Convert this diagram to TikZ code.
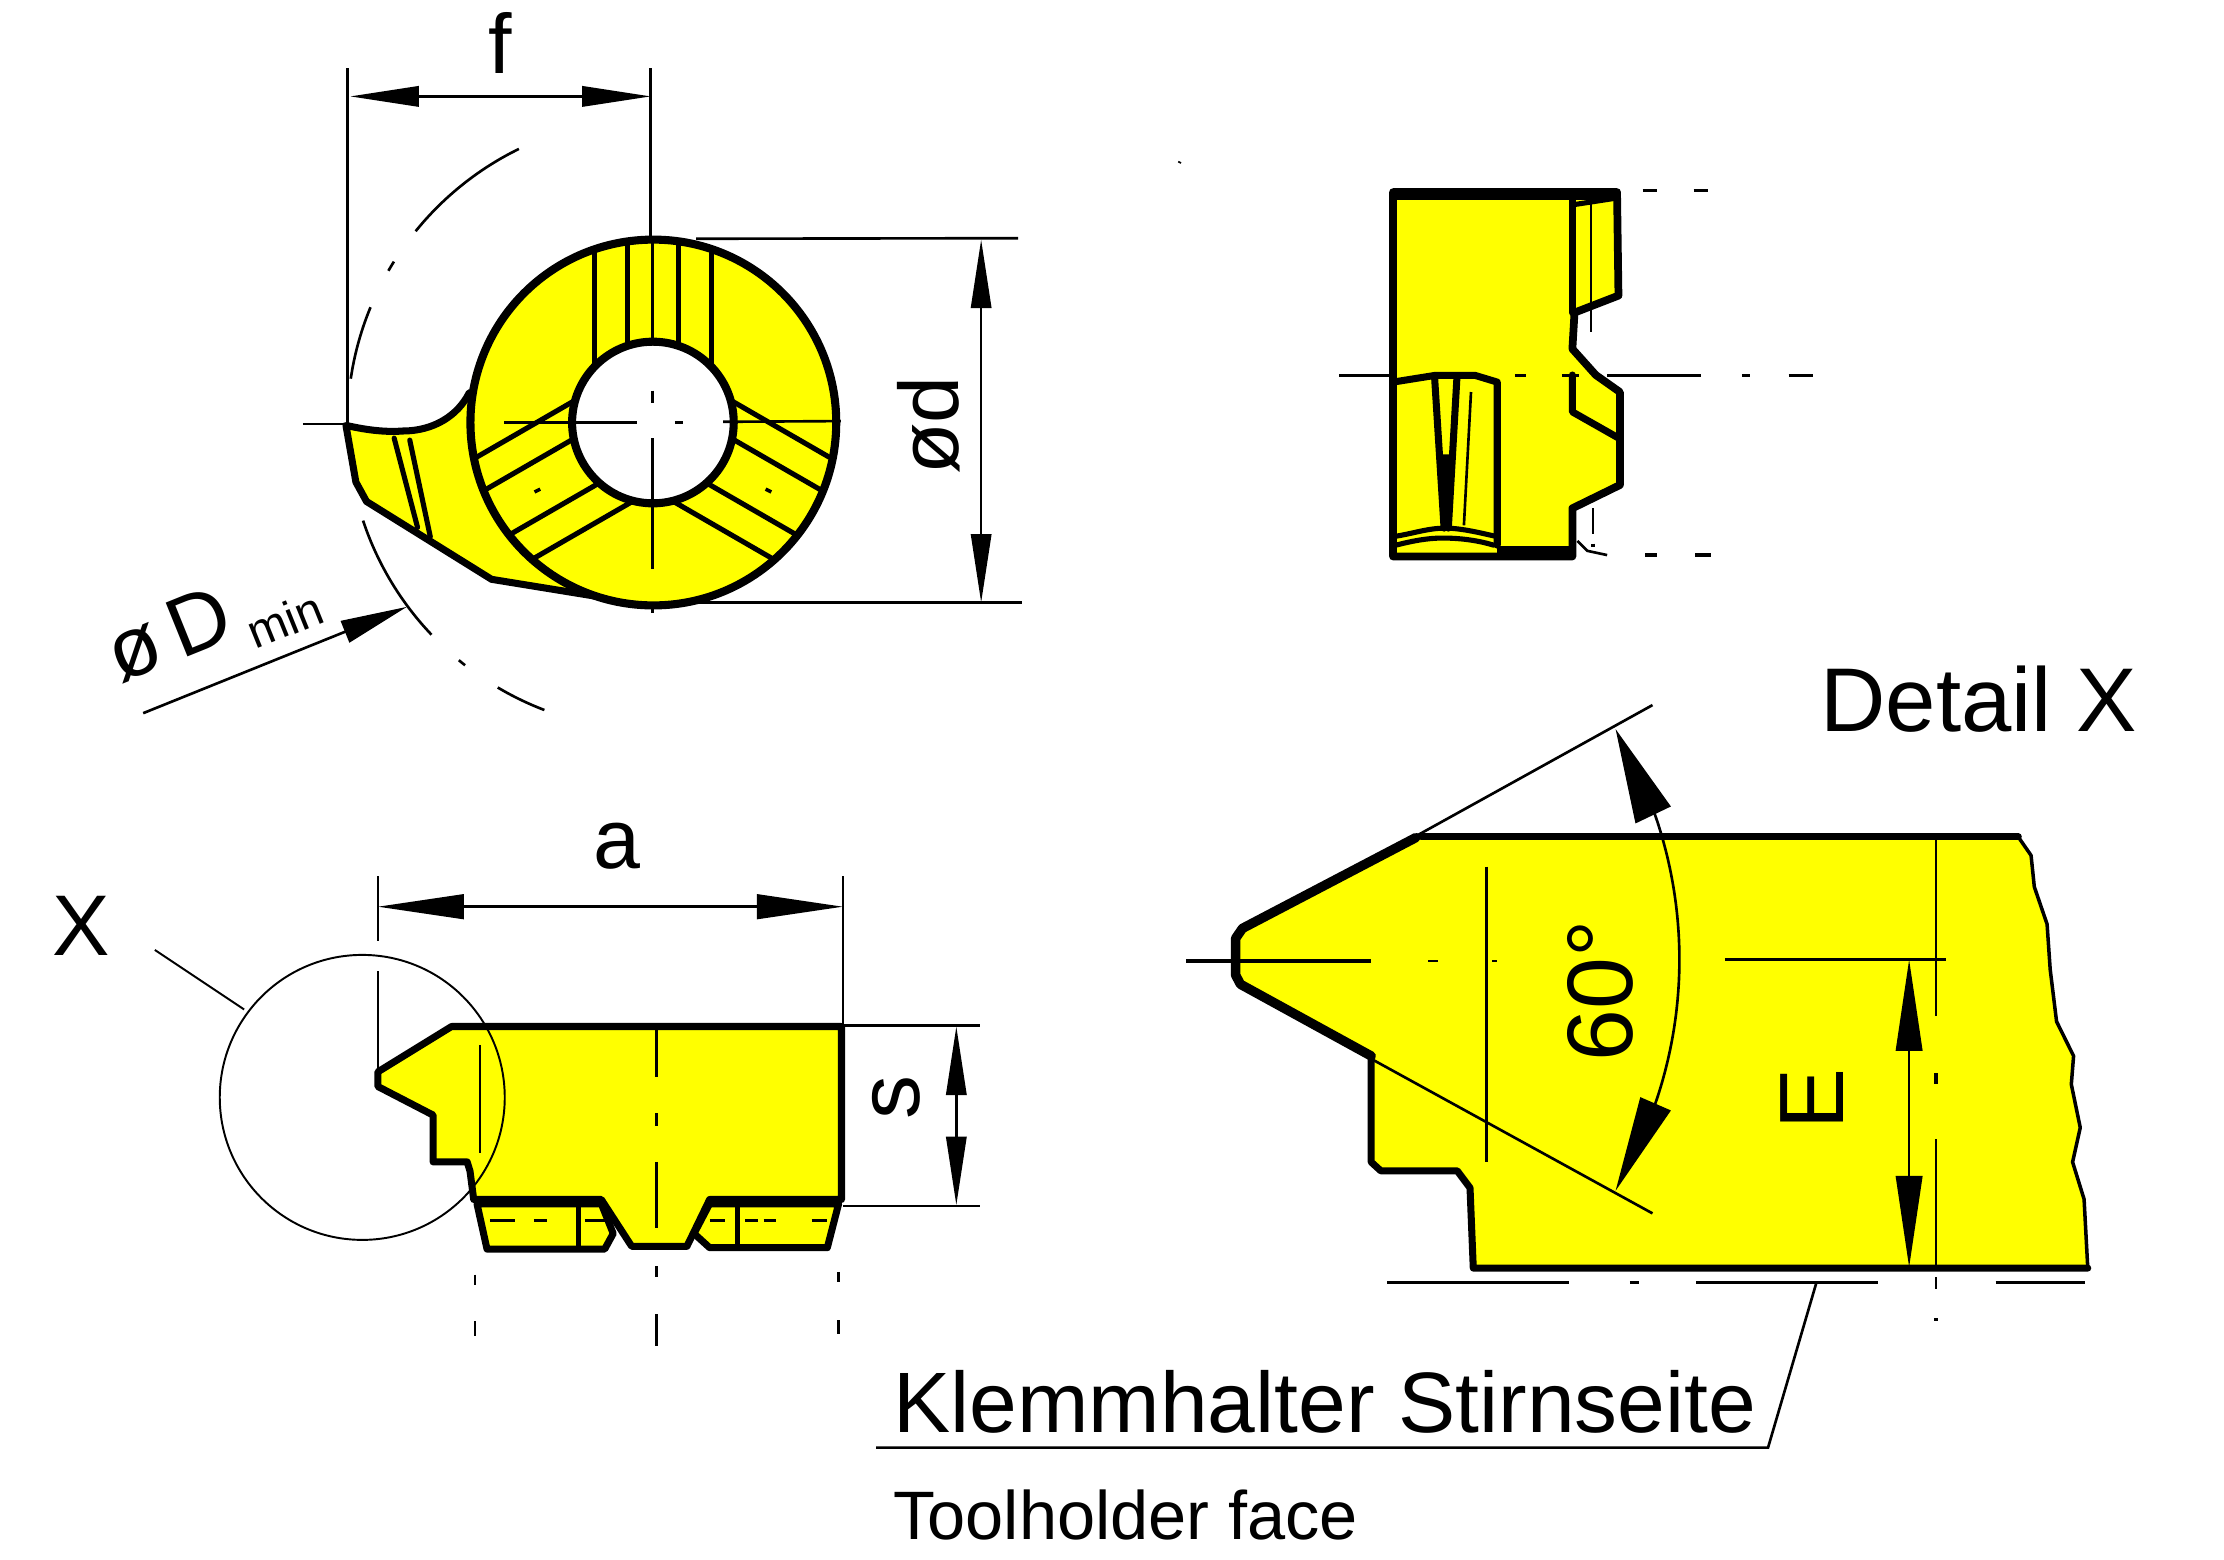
\documentclass[tikz,border=0pt]{standalone}
\usepackage{fontspec}
\setmainfont{Liberation Sans}
\usetikzlibrary{arrows.meta}
\definecolor{partyellow}{HTML}{FFFF00}
\newcommand{\lab}[1]{\fontsize{#1}{#1}\selectfont}
\tikzset{
  x=0.028344cm,y=-0.028344cm,
  thk/.style={line width=4pt,line join=round,line cap=round},
  med/.style={line width=2.9pt,line join=round,line cap=round},
  thn/.style={line width=1.5pt},
  dimarrow/.style={line width=1.5pt,{Triangle[length=39pt,width=11.5pt]}-{Triangle[length=39pt,width=11.5pt]}},
  dimarrowA/.style={line width=1.5pt,{Triangle[length=49pt,width=14pt]}-{Triangle[length=49pt,width=14pt]}},
  dimarrowE/.style={line width=1.5pt,{Triangle[length=52pt,width=15pt]}-{Triangle[length=52pt,width=15pt]}},
  part/.style={fill=partyellow,draw=black},
  txt/.style={inner sep=0pt,outer sep=0pt,text=black}
}
\begin{document}
\begin{tikzpicture}
\useasboundingbox (0,0) rectangle (1568.6,1099.6);
\fill[white] (0,0) rectangle (1568.6,1099.6);

%% ---------- top-left view ----------
\begin{scope}[shift={(1,1)}]
\coordinate (fL) at (246,67); \coordinate (fR) at (458,67);
\coordinate (dT) at (691,168); \coordinate (dB) at (691,424);
\draw[thn] (244,47) -- (244,298);
\draw[thn] (458,47) -- (458,170);
\draw[dimarrow] (fL) -- (fR);
\draw[thn] (490,167.4) -- (717,167);
\draw[thn] (490,424) -- (720,424);
\draw[dimarrow] (dT) -- (dB);
% dashed circle
\draw[thn] plot[domain=219:243.9,samples=12,smooth] ({460+216*cos(\x)},{298+216*sin(\x)});
\draw[thn] plot[domain=210:212,samples=3] ({460+216*cos(\x)},{298+216*sin(\x)});
\draw[thn] plot[domain=188.5:202.4,samples=8,smooth] ({460+216*cos(\x)},{298+216*sin(\x)});
\draw[thn] plot[domain=136.5:161.6,samples=12,smooth] ({460+216*cos(\x)},{298+216*sin(\x)});
\draw[thn] plot[domain=128:129.5,samples=3] ({460+216*cos(\x)},{298+216*sin(\x)});
\draw[thn] plot[domain=110.9:120.6,samples=6,smooth] ({460+216*cos(\x)},{298+216*sin(\x)});
% Dmin arrow
\coordinate (dminA) at (100,502); \coordinate (dminB) at (286,427);
\draw[line width=1.5pt,-{Triangle[length=38pt,width=13pt]}] (dminA) -- (dminB);
% tail
\draw[part,thk] (243,299) .. controls (256,302) and (270,304) .. (283,303)
  .. controls (305,303) and (322,292) .. (330,276)
  -- (459,426) -- (345.7,407.6) -- (257.5,352.7) -- (250,339) -- cycle;
\draw[med] (277,308) -- (293.5,371);
\draw[med] (288,309.4) -- (302.5,377.6);
% ring
\draw[part,line width=4.6pt] (459.8,297) circle[radius=129];
\foreach \r in {0,120,240}{
  \begin{scope}[shift={(459.5,297)},rotate=\r]
    \draw[med] (-41,-120) -- (-41,-30);
    \draw[med] (41,-120) -- (41,-30);
    \draw[med] (-18,-126) -- (-18,-40);
    \draw[med] (18,-126) -- (18,-40);
  \end{scope}
}
\draw[line width=4.6pt,fill=white] (459.5,297) circle[radius=57];
% centre lines
\draw[thn] (459,168) -- (459,240);
\draw[thn] (459,274.5) -- (459,283);
\draw[thn] (459,308) -- (459,400);
\draw[thn] (459,426) -- (459,431);
\draw[thn] (354.7,297) -- (448,297);
\draw[thn] (475,297) -- (481,297);
\draw[thn] (509,296.5) -- (592,296);
\draw[thn] (212.6,298) -- (243,298);
\draw[line width=2pt] (376,346) -- (380,344);
\draw[line width=2pt] (539,344) -- (543,346);
\end{scope}
% labels
\node[txt,anchor=center] (lf) at (353,30) {\lab{48}f};
\node[txt,anchor=center,rotate=90] (ld) at (655,300) {\lab{48}ød};
\node[txt,anchor=center,rotate=22] (lD) at (119,447) {\lab{48}ø\,D};
\node[txt,anchor=center,rotate=22] (lmin) at (201,437) {\lab{27}min};

%% ---------- top-right view ----------
\begin{scope}[shift={(1.5,0.5)}]
\draw[part,line width=4.4pt,line join=round] (981,135) -- (1139,135) -- (1140,208) -- (1109,220) -- (1107.5,245.6)
  -- (1124,264) -- (1141,276) -- (1141,341.6) -- (1107.5,358) -- (1107.5,392) -- (981,392) -- cycle;
\draw[line width=5.5pt] (981,137) -- (1139,137);
\draw[thk] (1107.5,135) -- (1107.5,220);
\draw[med] (1107.5,144) -- (1140,139);
\draw[thn] (1120.5,142.5) -- (1120.5,234);
\draw[thk] (1107.5,264) -- (1107.5,290) -- (1141,309);
\draw[thk] (981,269) -- (1010.4,264.3) -- (1039,264.3) -- (1054.5,269) -- (1054.5,384);
\draw[line width=6pt] (1054.5,388) -- (1107.5,388);
\draw[thk] (1010.4,267) -- (1017,372);
\draw[thk] (1026,267) -- (1020,372);
\fill (1012,320) -- (1025,320) -- (1019,372) -- cycle;
\draw[thn] (1036,276) -- (1031,370);
\draw[med] (981,378) .. controls (995,376) and (1005,372) .. (1018,372) .. controls (1030,372) and (1045,376) .. (1054.5,378);
\draw[med] (983,384) .. controls (995,381) and (1005,379) .. (1016,379) .. controls (1030,379) and (1042,381) .. (1052,384);
\draw[thn] (1122,358) -- (1122,376);
\draw[thn] (1111,381) -- (1118,388) -- (1132,391);
\draw[line width=2pt] (1122,383) -- (1122,385);
\foreach \a/\b in {943/981,1067/1075,1100/1112,1132/1198,1227/1233,1260/1277}{
  \draw[line width=1.8pt] (\a,264.5) -- (\b,264.5);}
\foreach \a/\b in {1157/1167,1193/1203}{\draw[line width=1.8pt] (\a,134) -- (\b,134);}
\foreach \a/\b in {1159/1167,1194/1205}{\draw[line width=1.8pt] (\a,391) -- (\b,391);}
\end{scope}
\draw[line width=1pt] (831,114) -- (833,115);

%% ---------- bottom-left view ----------
\begin{scope}[shift={(0.5,1)}]
\draw[thn] (266,617) -- (266,662.6);
\draw[thn] (266,684) -- (266,755);
\draw[thn] (594,617) -- (594,723);
\coordinate (aL) at (266,638.5); \coordinate (aR) at (594,638.5);
\draw[dimarrowA] (aL) -- (aR);
\draw[thn] (594,722.5) -- (691,722.5);
\draw[thn] (594,849.5) -- (691,849.5);
\coordinate (sT) at (674,723); \coordinate (sB) at (674,849);
\draw[dimarrow] (sT) -- (sB);
\draw[part,thk] (266,755) -- (318,723) -- (593,723) -- (593,845) -- (500,845)
  -- (484,878) -- (445,878) -- (423.6,845) -- (333.6,845) -- (331,825) -- (329,818.5)
  -- (305,818.5) -- (305,785.5) -- (266,765.3) -- cycle;
% pads
\draw[part,thk] (335.9,848) -- (343,880) -- (426,880) -- (432,869) -- (423.6,848) -- cycle;
\draw[part,thk] (591,848) -- (583,879) -- (500,879) -- (489,869) -- (500,848) -- cycle;
\draw[med] (407.8,850) -- (407.8,880);
\draw[med] (519.4,850) -- (519.4,879);
\foreach \a/\b in {345/363,376/385,412/426,500/511,525/534,538/547,572/583}{
  \draw[line width=1.8pt] (\a,860) -- (\b,860);}
\draw[thn] (338,736) -- (338,812);
\foreach \a/\b in {723/758.9,784/793,818.5/865,892/899.6,926/948}{\draw[thn] (462.7,\a) -- (462.7,\b);}
\foreach \a/\b in {898/905,931/941.5}{\draw[thn] (334.5,\a) -- (334.5,\b);}
\foreach \a/\b in {896/903.4,930/940}{\draw[thn] (591,\a) -- (591,\b);}
\draw[line width=1.1pt] (255,773) circle[radius=100.5];
\coordinate (xLeaderA) at (108.7,669); \coordinate (xLeaderB) at (171.7,711);
\draw[line width=1.1pt] (xLeaderA) -- (xLeaderB);
\end{scope}
\node[txt,anchor=center] (lX) at (57,653) {\lab{49}X};
\node[txt,anchor=center] (la) at (435,597) {\lab{48}a};
\node[txt,anchor=center,rotate=90] (ls) at (632,774) {\lab{50}s};

%% ---------- Detail X ----------
\begin{scope}[shift={(2.5,0.8)}]
\draw[part,line width=2pt,line join=round] (868,661) -- (873.8,653) -- (996,589.5) -- (1421,589.5)
  -- (1430,602.5) -- (1432.3,624.7) -- (1441.3,651) -- (1443.5,683) -- (1448,719.7) -- (1460,744)
  -- (1458.4,764) -- (1464.7,794.5) -- (1459.3,818.8) -- (1467.4,845) -- (1470,893.6)
  -- (1036.6,893.6) -- (1034.3,837) -- (1025.3,825) -- (971.4,825) -- (964.6,818.8)
  -- (964.6,744) -- (872.4,693.4) -- (868,687.4) -- cycle;
\draw[line width=4pt,line cap=round] (1000,589.5) -- (1421,589.5);
\draw[line width=5.4pt,line join=round,line cap=round] (996,590) -- (873.8,654) -- (869,661) -- (869,687) -- (872.4,693.4) -- (964.6,744);
\draw[line width=4pt,line join=round,line cap=round] (964.6,744) -- (964.6,818.8) -- (971.4,825) -- (1025.3,825) -- (1034.3,837) -- (1036.6,893.6) -- (1470,893.6);
% detail lines
\draw[thn] (996,589) -- (1163,496.5);
\draw[thn] (964.6,746) -- (1163,855);
\draw[thn] (1046,610.5) -- (1046,819);
\draw[thn] (1363,590) -- (1363,715.7);
\draw[line width=2.2pt] (1363,756) -- (1363,764);
\draw[thn] (1363,802.6) -- (1363,893.6);
\draw[thn] (1363,900) -- (1363,908);
\draw[line width=2pt] (1363,929) -- (1363,931);
\draw[line width=1.8pt] (834,677) -- (964.6,677);
\draw[thn] (1005,677) -- (1012,677);
\draw[thn] (1050,677) -- (1053,677);
\draw[line width=1.8pt] (1214,676) -- (1370,676);
\foreach \a/\b in {976/1104,1147/1153.5,1194/1322,1405/1468}{\draw[thn] (\a,903.7) -- (\b,903.7);}
% 60 degree arc
\draw[thn] plot[domain=-20:20,samples=20,smooth] ({870+312*cos(\x)},{676+312*sin(\x)});
\coordinate (angT) at (1137,513.5); \coordinate (angTa) at (1151,580); \coordinate (angTb) at (1176,568);
\coordinate (angB) at (1137,839); \coordinate (angBa) at (1154.4,773); \coordinate (angBb) at (1176,782.4);
\fill (angT) -- (angTa) -- (angTb) -- cycle;
\fill (angB) -- (angBa) -- (angBb) -- cycle;
% E
\coordinate (eT) at (1344,676); \coordinate (eB) at (1344,893);
\draw[dimarrowE] (eT) -- (eB);
\end{scope}
\node[txt,anchor=center,rotate=90] (l60) at (1129,699) {\lab{53}60°};
\node[txt,anchor=center,rotate=90] (lE) at (1278,775) {\lab{52}E};
\node[txt,anchor=base west] (ldetail) at (1284,516) {\lab{51.5}Detail X};
\node[txt,anchor=base west] (lklemm) at (630,1010) {\lab{48.8}Klemmhalter Stirnseite};
\node[txt,anchor=base west] (ltool) at (630,1086) {\lab{39}Toolholder face};
\coordinate (uL) at (618,1021); \coordinate (uR) at (1247,1021); \coordinate (uT) at (1281,905);
\draw[thn] (uL) -- (uR) -- (uT);
\end{tikzpicture}
\end{document}
